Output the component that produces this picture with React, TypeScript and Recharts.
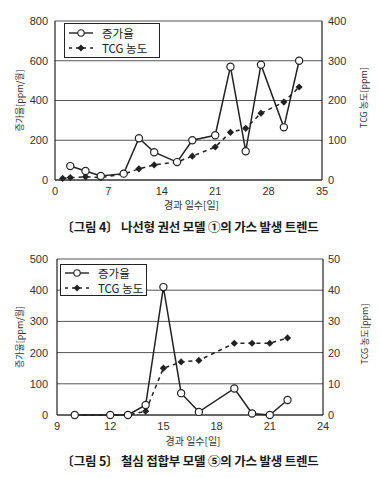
import React from 'react'
import { ComposedChart, Line, XAxis, YAxis, CartesianGrid, Legend, Label } from 'recharts'

// 그림 4 - 나선형 권선 모델 ①
const fig4RateDays = [2, 4, 6, 9, 11, 13, 16, 18, 21, 23, 25, 27, 30, 32]
const fig4Rate = [70, 45, 20, 32, 210, 140, 90, 200, 225, 570, 145, 580, 265, 600]
const fig4TcgDays = [1, 2, 4, 6, 9, 11, 13, 16, 18, 21, 23, 25, 27, 30, 32]
const fig4Tcg = [4, 6, 8, 6, 15, 28, 38, 45, 60, 83, 120, 130, 168, 196, 234]
const fig4XTicks = [0, 7, 14, 21, 28, 35]
const fig4LeftTicks = [0, 200, 400, 600, 800]
const fig4RightTicks = [0, 100, 200, 300, 400]

// 그림 5 - 철심 접합부 모델 ⑤
const fig5RateDays = [10, 12, 13, 14, 15, 16, 17, 19, 20, 21, 22]
const fig5Rate = [0, 0, 0, 32, 410, 70, 10, 85, 5, 0, 48]
const fig5TcgDays = [10, 12, 13, 14, 15, 16, 17, 19, 20, 21, 22]
const fig5Tcg = [0, 0, 0, 1.2, 15, 17, 17.5, 23, 23, 23, 24.7]
const fig5XTicks = [9, 12, 15, 18, 21, 24]
const fig5LeftTicks = [0, 100, 200, 300, 400, 500]
const fig5RightTicks = [0, 10, 20, 30, 40, 50]

const RATE_NAME = '증가율'
const TCG_NAME = 'TCG 농도'
const TICK_FONT = '"Liberation Sans", Arial, sans-serif'
const KR_FONT = '"Noto Sans CJK KR", "Noto Sans", sans-serif'
const INK = '#222'

const buildRows = (rateDays: number[], rate: number[], tcgDays: number[], tcg: number[]) => {
  const days = Array.from(new Set([...rateDays, ...tcgDays])).sort((a, b) => a - b)
  return days.map((day) => {
    const ri = rateDays.indexOf(day)
    const ti = tcgDays.indexOf(day)
    return {
      day,
      rate: ri >= 0 ? rate[ri] : undefined,
      tcg: ti >= 0 ? tcg[ti] : undefined,
    }
  })
}

const CircleDot = (props: any) => {
  const { cx, cy, index } = props
  if (cx == null || cy == null || props.value == null) return <g key={`c-${index}`} />
  return <circle key={`c-${index}`} cx={cx} cy={cy} r={3.6} fill="#fff" stroke={INK} strokeWidth={1.2} />
}

const DiamondDot = (props: any) => {
  const { cx, cy, index } = props
  if (cx == null || cy == null || props.value == null) return <g key={`d-${index}`} />
  const s = 3.6
  return (
    <path
      key={`d-${index}`}
      d={`M${cx},${cy - s}L${cx + s},${cy}L${cx},${cy + s}L${cx - s},${cy}Z`}
      fill={INK}
    />
  )
}

const LegendBox = ({ width, height }: { width: number; height: number }) => (
  <div
    style={{
      width,
      height,
      boxSizing: 'border-box',
      border: '1.2px solid #222',
      background: '#fff',
      display: 'flex',
      flexDirection: 'column',
      justifyContent: 'center',
      gap: 1,
      fontFamily: KR_FONT,
      fontSize: 11.5,
      color: INK,
    }}
  >
    {[RATE_NAME, TCG_NAME].map((name, i) => (
      <div key={name} style={{ display: 'flex', alignItems: 'center', height: 14 }}>
        <svg width={34} height={12} style={{ marginLeft: 3 }}>
          {i === 0 ? (
            <>
              <line x1={1} y1={6} x2={25} y2={6} stroke={INK} strokeWidth={1.4} />
              <circle cx={13} cy={6} r={3.2} fill="#fff" stroke={INK} strokeWidth={1.1} />
            </>
          ) : (
            <>
              <line x1={1} y1={6} x2={25} y2={6} stroke={INK} strokeWidth={1.4} strokeDasharray="3 4" />
              <path d="M13,2.6L16.4,6L13,9.4L9.6,6Z" fill={INK} />
            </>
          )}
        </svg>
        <span>{name}</span>
      </div>
    ))}
  </div>
)

interface TrendProps {
  rows: any[]
  xTicks: number[]
  leftTicks: number[]
  rightTicks: number[]
  leftWidth: number
  rightWidth: number
  xHeight: number
  xLabelDy: number
  legend: { left: number; top: number; width: number; height: number }
}

const tickStyle = { fontSize: 11, fill: '#333', fontFamily: TICK_FONT }

// svg is taller than the plot needs so the axis title below the ticks is not clipped
const CHART_H = 224
const EXTRA_BOTTOM = 14

const TrendChart: React.FC<TrendProps> = ({ rows, xTicks, leftTicks, rightTicks, leftWidth, rightWidth, xHeight, xLabelDy, legend }) => {
  return (
    <ComposedChart width={380} height={CHART_H} data={rows} margin={{ top: 21, right: 0, left: 0, bottom: EXTRA_BOTTOM }}>
      <CartesianGrid vertical={false} stroke="#555" strokeWidth={1} yAxisId="left" />
      <XAxis
        dataKey="day"
        type="number"
        domain={[xTicks[0], xTicks[xTicks.length - 1]]}
        ticks={xTicks}
        height={xHeight}
        tickLine={false}
        tickSize={0}
        tickMargin={7}
        tick={tickStyle}
        axisLine={{ stroke: INK, strokeWidth: 1.2 }}
      >
        <Label
          content={(p: any) => (
            <text
              x={p.viewBox.x + p.viewBox.width / 2 + 3}
              y={p.viewBox.y + xLabelDy}
              textAnchor="middle"
              dominantBaseline="central"
              fontSize={10}
              fontFamily={KR_FONT}
              fill="#333"
            >
              경과 일수[일]
            </text>
          )}
        />
      </XAxis>
      <YAxis
        yAxisId="left"
        domain={[leftTicks[0], leftTicks[leftTicks.length - 1]]}
        ticks={leftTicks}
        width={leftWidth}
        tickLine={false}
        tickSize={0}
        tickMargin={leftWidth - 48}
        tick={tickStyle}
        axisLine={{ stroke: INK, strokeWidth: 1.2 }}
      >
        <Label
          content={(p: any) => {
            const cx = p.viewBox.x + 19
            const cy = p.viewBox.y + p.viewBox.height / 2
            return (
              <text
                x={cx}
                y={cy}
                transform={`rotate(-90 ${cx} ${cy})`}
                textAnchor="middle"
                dominantBaseline="central"
                fontSize={9}
                fontFamily={KR_FONT}
                fill="#333"
              >
                증가율[ppm/월]
              </text>
            )
          }}
        />
      </YAxis>
      <YAxis
        yAxisId="right"
        orientation="right"
        domain={[rightTicks[0], rightTicks[rightTicks.length - 1]]}
        ticks={rightTicks}
        width={rightWidth}
        tickLine={false}
        tickSize={0}
        tickMargin={rightWidth - 52}
        tick={tickStyle}
        axisLine={{ stroke: INK, strokeWidth: 1.2 }}
      >
        <Label
          content={(p: any) => {
            const cx = p.viewBox.x + 41
            const cy = p.viewBox.y + p.viewBox.height / 2 - 3
            return (
              <text
                x={cx}
                y={cy}
                transform={`rotate(-90 ${cx} ${cy})`}
                textAnchor="middle"
                dominantBaseline="central"
                fontSize={9}
                fontFamily={KR_FONT}
                fill="#333"
              >
                TCG 농도[ppm]
              </text>
            )
          }}
        />
      </YAxis>
      <Legend
        layout="vertical"
        align="center"
        verticalAlign="middle"
        wrapperStyle={{ position: 'absolute', left: legend.left, top: legend.top, width: legend.width, height: legend.height }}
        content={() => <LegendBox width={legend.width} height={legend.height} />}
      />
      <Line
        yAxisId="right"
        dataKey="tcg"
        name={TCG_NAME}
        stroke={INK}
        strokeWidth={1.5}
        strokeDasharray="4 4"
        connectNulls
        dot={DiamondDot}
        activeDot={false}
        isAnimationActive={false}
      />
      <Line
        yAxisId="left"
        dataKey="rate"
        name={RATE_NAME}
        stroke={INK}
        strokeWidth={1.5}
        connectNulls
        dot={CircleDot}
        activeDot={false}
        isAnimationActive={false}
      />
    </ComposedChart>
  )
}

const captionStyle: React.CSSProperties = {
  position: 'absolute',
  left: 0,
  width: 380,
  textAlign: 'center',
  fontFamily: KR_FONT,
  fontWeight: 700,
  fontSize: 12.5,
  letterSpacing: -0.2,
  color: '#1a1a1a',
  lineHeight: '16px',
}

export default function App() {
  const rows4 = buildRows(fig4RateDays, fig4Rate, fig4TcgDays, fig4Tcg)
  const rows5 = buildRows(fig5RateDays, fig5Rate, fig5TcgDays, fig5Tcg)
  return (
    <div style={{ position: 'absolute', left: 0, top: 0, width: 380, height: 478, background: '#fff', overflow: 'hidden' }}>
      <div style={{ position: 'absolute', left: 0, top: 0 }}>
        <TrendChart
          rows={rows4}
          xTicks={fig4XTicks}
          leftTicks={fig4LeftTicks}
          rightTicks={fig4RightTicks}
          leftWidth={55}
          rightWidth={58}
          xHeight={30}
          xLabelDy={24}
          legend={{ left: 64, top: 23, width: 96, height: 35 }}
        />
      </div>
      <div style={{ position: 'absolute', left: 0, top: 238 }}>
        <TrendChart
          rows={rows5}
          xTicks={fig5XTicks}
          leftTicks={fig5LeftTicks}
          rightTicks={fig5RightTicks}
          leftWidth={57}
          rightWidth={57}
          xHeight={33}
          xLabelDy={25}
          legend={{ left: 60, top: 26, width: 87, height: 32 }}
        />
      </div>
      <div style={{ ...captionStyle, top: 219 }}>〔그림 4〕 나선형 권선 모델 ①의 가스 발생 트렌드</div>
      <div style={{ ...captionStyle, top: 453 }}>〔그림 5〕 철심 접합부 모델 ⑤의 가스 발생 트렌드</div>
    </div>
  )
}
